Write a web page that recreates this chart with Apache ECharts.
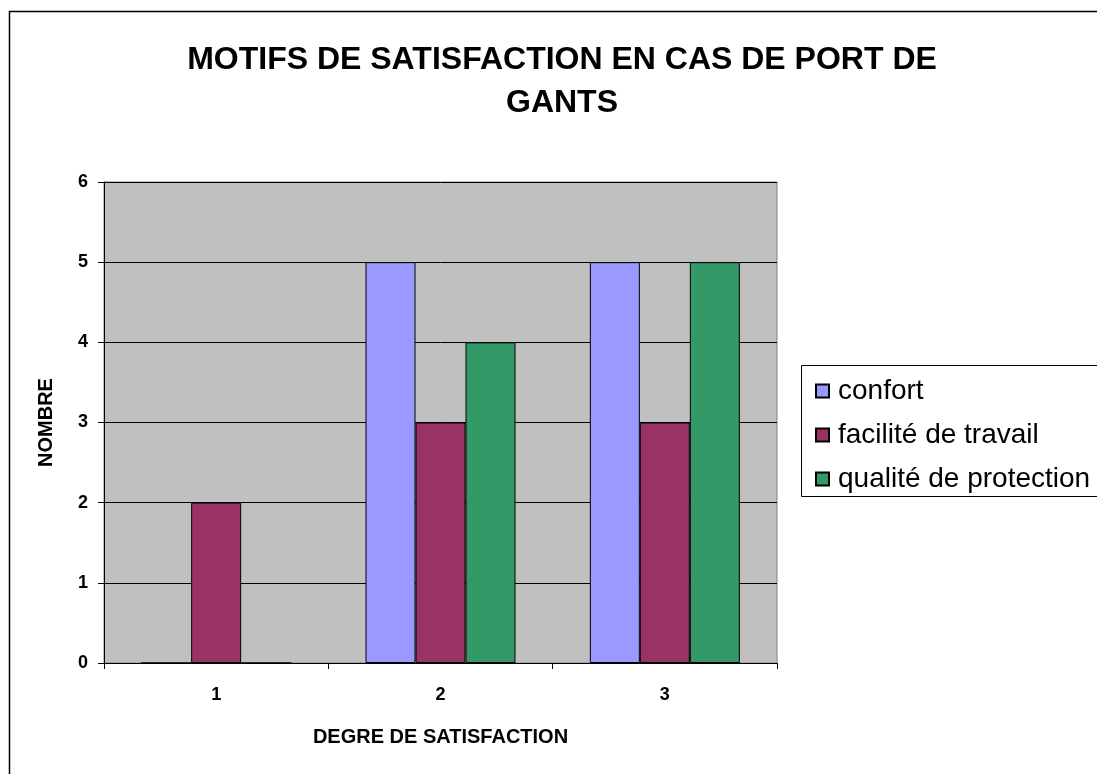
<!DOCTYPE html>
<html><head><meta charset="utf-8">
<script src="https://cdn.jsdelivr.net/npm/echarts@6/dist/echarts.min.js"></script>
<style>html,body{margin:0;padding:0;background:#fff}#c{width:1097px;height:774px}</style>
</head><body><div id="c"></div>
<script>
const titleText = 'MOTIFS DE SATISFACTION EN CAS DE PORT DE\nGANTS';
const categories = ['1', '2', '3'];
const seriesNames = ['confort', 'facilité de travail', 'qualité de protection'];
const confort = [0, 5, 5];
const facilite = [2, 3, 3];
const qualite = [0, 4, 5];
const colors = ['#9999FF', '#993366', '#339966'];
const yMin = 0, yMax = 6, yInterval = 1;

const F = '"Liberation Sans", Arial, sans-serif';
const chart = echarts.init(document.getElementById('c'), null, {renderer: 'canvas'});
const values = [confort, facilite, qualite];
chart.setOption({
  animation: false,
  textStyle: {fontFamily: F},
  graphic: [
    {type: 'rect', shape: {x: 9.5, y: 11.5, width: 1200, height: 900}, style: {fill: 'none', stroke: '#000', lineWidth: 1.5}, z: -10},
    {type: 'rect', shape: {x: 801.5, y: 365.5, width: 400, height: 131}, style: {fill: '#fff', stroke: '#000', lineWidth: 1}, z: 0}
  ],
  title: {
    text: titleText, left: 557, top: 34, textAlign: 'center',
    textStyle: {fontFamily: F, fontSize: 32, fontWeight: 'bold', color: '#000', lineHeight: 43}
  },
  legend: {
    orient: 'vertical', left: 810, top: 372, itemWidth: 13, itemHeight: 13, itemGap: 16, icon: 'rect',
    textStyle: {fontFamily: F, fontSize: 28, color: '#000', lineHeight: 28, padding: [0, 0, 0, 4]}, data: seriesNames, z: 5
  },
  grid: {left: 104, top: 182, right: 320, bottom: 111, show: true, backgroundColor: '#C0C0C0', borderColor: '#808080', borderWidth: 1},
  xAxis: {
    type: 'category', data: categories,
    name: 'DEGRE DE SATISFACTION', nameLocation: 'middle', nameGap: 64,
    nameTextStyle: {fontFamily: F, fontSize: 20, fontWeight: 'bold', color: '#000'},
    axisLine: {lineStyle: {color: '#000', width: 1}},
    axisTick: {show: true, length: 6, lineStyle: {color: '#000'}},
    axisLabel: {fontFamily: F, fontSize: 18, fontWeight: 'bold', color: '#000', margin: 23},
    splitLine: {show: false}
  },
  yAxis: {
    type: 'value', min: yMin, max: yMax, interval: yInterval,
    name: 'NOMBRE', nameLocation: 'middle', nameGap: 48, nameRotate: 90,
    nameTextStyle: {fontFamily: F, fontSize: 20, fontWeight: 'bold', color: '#000'},
    axisLine: {show: true, lineStyle: {color: '#000', width: 1}},
    axisTick: {show: true, length: 6, lineStyle: {color: '#000'}},
    axisLabel: {fontFamily: F, fontSize: 18, fontWeight: 'bold', color: '#000', margin: 16},
    splitLine: {show: true, lineStyle: {color: '#000', width: 1}}
  },
  series: seriesNames.map((n, i) => ({
    name: n, type: 'bar', data: values[i], barWidth: 50, barGap: '0%',
    itemStyle: {color: colors[i], borderColor: '#000', borderWidth: 1}
  }))
});
</script></body></html>
